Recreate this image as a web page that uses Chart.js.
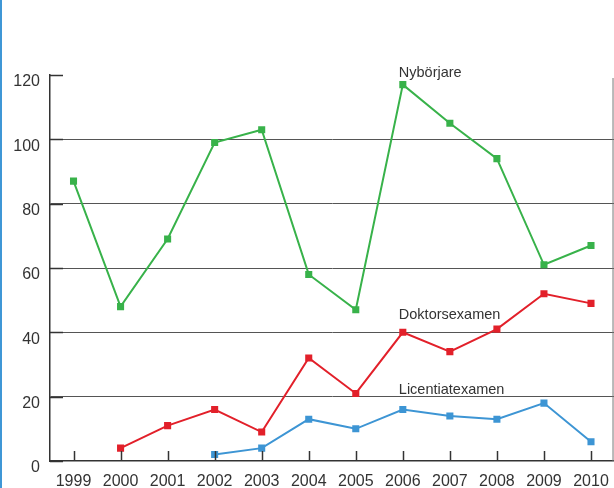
<!DOCTYPE html>
<html>
<head>
<meta charset="utf-8">
<script src="https://cdn.jsdelivr.net/npm/chart.js@4"></script>
<style>
    html, body { margin: 0; padding: 0; background: #fff; }
    #wrap { position: relative; width: 614px; height: 488px; overflow: hidden; }
    #bar { position: absolute; left: 0; top: 0; width: 2px; height: 488px; background: #3f97d6; }
    canvas { position: absolute; left: 0; top: 0; }
</style>
</head>
<body>
<div id="wrap">
    <canvas id="myChart" width="620" height="488"></canvas>
    <div id="bar"></div>
</div>
<script>
// data
var years = ['1999', '2000', '2001', '2002', '2003', '2004', '2005', '2006', '2007', '2008', '2009', '2010'];
var nyborjare = [87, 48, 69, 99, 103, 58, 47, 117, 105, 94, 61, 67];
var doktorsexamen = [null, 4, 11, 16, 9, 32, 21, 40, 34, 41, 52, 49];
var licentiatexamen = [null, null, null, 2, 4, 13, 10, 16, 14, 13, 18, 6];
var yTicks = [0, 20, 40, 60, 80, 100, 120];

var green = '#38b24a';
var red = '#e2202a';
var blue = '#3d95d4';

// labels written next to the lines, anchored at 2006
var seriesLabels = [
    { text: 'Nybörjare', value: 120.7 },
    { text: 'Doktorsexamen', value: 45.4 },
    { text: 'Licentiatexamen', value: 22 }
];

function line(label, data, color) {
    return {
        label: label,
        data: data,
        borderColor: color,
        backgroundColor: color,
        borderWidth: 2,
        pointStyle: 'rect',
        pointRadius: 5,
        pointBorderWidth: 0,
        pointBackgroundColor: color,
        tension: 0
    };
}

var extras = {
    id: 'extras',
    afterDraw: function(chart) {
        var ctx = chart.ctx;
        var area = chart.chartArea;
        var x = chart.scales.x, y = chart.scales.y;
        ctx.save();
        // right border
        ctx.strokeStyle = '#777';
        ctx.lineWidth = 1;
        ctx.beginPath();
        ctx.moveTo(area.right - 1.5, area.top + 3);
        ctx.lineTo(area.right - 1.5, area.bottom);
        ctx.stroke();
        // inward ticks
        ctx.strokeStyle = '#333';
        ctx.lineWidth = 1.5;
        yTicks.forEach(function(v) {
            var py = Math.round(y.getPixelForValue(v)) + 0.5;
            ctx.beginPath();
            ctx.moveTo(area.left, py);
            ctx.lineTo(area.left + 13, py);
            ctx.stroke();
        });
        years.forEach(function(yr, i) {
            var px = Math.round(x.getPixelForValue(i)) + 0.5;
            ctx.beginPath();
            ctx.moveTo(px, area.bottom);
            ctx.lineTo(px, area.bottom - 10);
            ctx.stroke();
        });
        // series names
        ctx.fillStyle = '#333';
        ctx.font = '14.5px "Liberation Sans", Arial, sans-serif';
        ctx.textAlign = 'left';
        ctx.textBaseline = 'middle';
        var lx = x.getPixelForValue(years.indexOf('2006')) - 4;
        seriesLabels.forEach(function(s) {
            ctx.fillText(s.text, lx, y.getPixelForValue(s.value));
        });
        ctx.restore();
    }
};

var ctx = document.getElementById('myChart').getContext('2d');
var chart = new Chart(ctx, {
    type: 'line',
    data: {
        labels: years,
        datasets: [
            line('Nybörjare', nyborjare, green),
            line('Doktorsexamen', doktorsexamen, red),
            line('Licentiatexamen', licentiatexamen, blue)
        ]
    },
    options: {
        responsive: false,
        animation: false,
        layout: { padding: { top: 75, right: 0, left: 0, bottom: 0 } },
        plugins: {
            legend: { display: false },
            tooltip: { enabled: false }
        },
        scales: {
            x: {
                offset: true,
                grid: { display: false, drawTicks: false },
                border: { display: true, color: '#333', width: 1.5 },
                ticks: {
                    padding: 11,
                    color: '#333',
                    maxRotation: 0,
                    autoSkip: false,
                    font: { family: '"Liberation Sans", Arial, sans-serif', size: 16 }
                },
                afterFit: function(scale) {
                    scale.height = 27;
                }
            },
            y: {
                min: 0,
                max: 120,
                afterBuildTicks: function(scale) {
                    scale.ticks = yTicks.map(function(v) { return { value: v }; });
                },
                grid: {
                    drawTicks: false,
                    color: function(c) {
                        var v = c.tick ? c.tick.value : null;
                        return (v === 0 || v === 120) ? 'rgba(0,0,0,0)' : '#555';
                    },
                    lineWidth: 1
                },
                border: { display: true, color: '#333', width: 1.5 },
                ticks: {
                    padding: 10,
                    labelOffset: 7,
                    color: '#333',
                    font: { family: '"Liberation Sans", Arial, sans-serif', size: 16 }
                },
                afterFit: function(scale) { scale.width = 50; }
            }
        }
    },
    plugins: [extras]
});
</script>
</body>
</html>
